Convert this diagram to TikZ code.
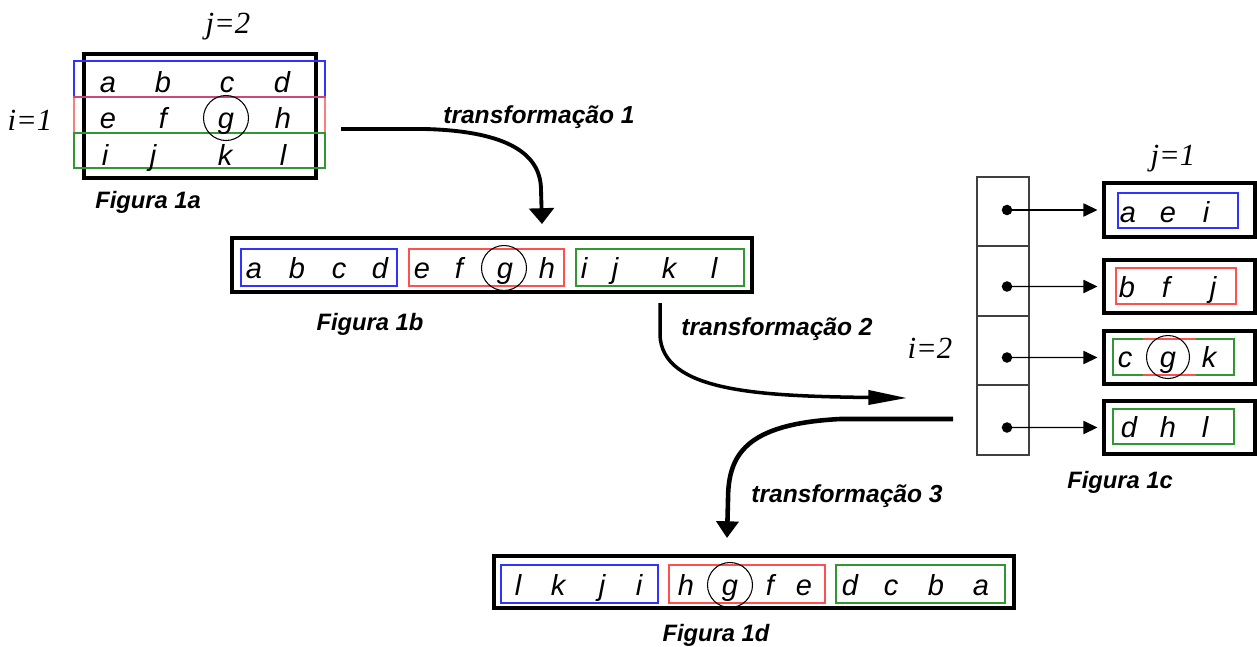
\documentclass[tikz,border=0pt]{standalone}
\usepackage{fontspec}
\setmainfont{Liberation Sans}
\newfontfamily\timesf{Liberation Serif}
\usetikzlibrary{arrows.meta,fit}
\definecolor{cblue}{RGB}{50,50,255}
\definecolor{cred}{RGB}{255,80,80}
\definecolor{cgreen}{RGB}{50,150,50}
\begin{document}
\begin{tikzpicture}[x=0.02cm,y=-0.02cm,
  lt/.style={inner sep=0pt, anchor=base, font=\fontsize{16.5}{19}\selectfont\itshape},
  lbl/.style={inner sep=0pt, anchor=base, font=\fontsize{13.5}{15}\selectfont\bfseries\itshape},
  tlbl/.style={inner sep=0pt, anchor=base, font=\fontsize{14}{16}\selectfont\bfseries\itshape},
  idx/.style={inner sep=0pt, anchor=base, font=\fontsize{17.5}{20}\selectfont\timesf\itshape},
  outer/.style={draw, line width=1.8pt, inner sep=0pt},
  bbox/.style={draw=cblue, line width=0.7pt, inner sep=0pt},
  rbox/.style={draw=cred, line width=0.7pt, inner sep=0pt},
  gbox/.style={draw=cgreen, line width=0.7pt, inner sep=0pt},
  cell/.style={draw=black!75, line width=0.6pt, inner sep=0pt},
  circ/.style={draw, circle, line width=0.6pt, minimum size=0.9cm, inner sep=0pt},
  dot/.style={circle, fill, inner sep=0pt, minimum size=6pt},
  ptr/.style={line width=0.7pt, -{Triangle[width=7.5pt,length=8pt]}, shorten >=2.8pt},
  bigarrow/.style={line width=2.2pt}
]
\useasboundingbox (0,0) rectangle (1257,646);

% ---------- Figura 1a ----------
\node[outer, fit={(84,54) (316,178)}] (f1a) {};
\node[bbox, fit={(74,61) (325,97)}] (a1row) {};
\node[rbox, draw opacity=0.75, fit={(74,97) (325,133)}] (a2row) {};
\node[gbox, fit={(74,133) (325,168)}] (a3row) {};
\node[lt] (aa) at (108,92) {a};
\node[lt] (ab) at (163,92) {b};
\node[lt] (ac) at (227,92) {c};
\node[lt] (ad) at (282,92) {d};
\node[lt] (ae) at (108,128) {e};
\node[lt] (af) at (163,128) {f};
\node[lt] (ag) at (226,128) {g};
\node[lt] (ah) at (283,128) {h};
\node[lt] (ai) at (105,165) {i};
\node[lt] (aj) at (153,165) {j};
\node[lt] (ak) at (225,165) {k};
\node[lt] (al) at (283,165) {l};
\node[circ] (cga) at (226,118) {};
\node[idx] (j2) at (228,33) {j=2};
\node[idx] (i1) at (30,130) {i=1};
\node[lbl] (fig1a) at (148,208) {Figura 1a};

% ---------- arrow 1 ----------
\coordinate (t1s) at (341,129);
\coordinate (t1e) at (542,224);
\draw[bigarrow, -{Triangle[width=14pt,length=9pt]}] (t1s) -- (425,129)
  .. controls (500,131) and (541,150) .. (541,190) -- (t1e);
\node[tlbl] (tr1) at (539,123) {transformação 1};

% ---------- Figura 1b ----------
\node[outer, fit={(232,238) (752,292)}] (f1b) {};
\node[bbox, fit={(241,249) (397,286)}] (b1g) {};
\node[rbox, fit={(409,249) (564,286)}] (b2g) {};
\node[gbox, fit={(576,249) (744,286)}] (b3g) {};
\node[lt] (ba) at (254,278) {a};
\node[lt] (bb) at (297,278) {b};
\node[lt] (bc) at (339,278) {c};
\node[lt] (bd) at (380,278) {d};
\node[lt] (be) at (422,278) {e};
\node[lt] (bf) at (459,278) {f};
\node[lt] (bg) at (505,278) {g};
\node[lt] (bh) at (547,278) {h};
\node[lt] (bi) at (584,278) {i};
\node[lt] (bj) at (615,278) {j};
\node[lt] (bk) at (669,278) {k};
\node[lt] (bl) at (714,278) {l};
\node[circ] (cgb) at (504,268) {};
\node[lbl] (fig1b) at (370,330) {Figura 1b};

% ---------- arrow 2 ----------
\coordinate (t2s) at (660,303);
\coordinate (t2e) at (907,398);
\draw[bigarrow, line width=2pt, -{Triangle[width=8pt,length=22pt]}] (t2s) -- (660,335)
  .. controls (662,392) and (760,396) .. (t2e);
\node[tlbl] (tr2) at (777,335) {transformação 2};

% ---------- Figura 1c ----------
\node[cell, fit={(977,177) (1029,246)}] (c1) {};
\node[cell, fit={(977,246) (1029,316)}] (c2) {};
\node[cell, fit={(977,316) (1029,385)}] (c3) {};
\node[cell, fit={(977,385) (1029,455)}] (c4) {};
\node[outer, fit={(1104,183) (1255,237)}] (r1) {};
\node[outer, fit={(1104,260) (1255,313)}] (r2) {};
\node[outer, fit={(1104,331) (1255,384)}] (r3) {};
\node[outer, fit={(1104,401) (1255,454)}] (r4) {};
\node[bbox, fit={(1118,193) (1238,228)}] (r1g) {};
\node[rbox, fit={(1116,268) (1236,304)}] (r2g) {};
\node[gbox, fit={(1113,339) (1234,375)}] (r3g) {};
\node[gbox, fit={(1113,409) (1234,444)}] (r4g) {};
\draw[cred, line width=0.7pt] (1143,339) -- (1196,339) (1143,375) -- (1196,375);
\node[dot] (p1) at (1007,210) {};
\node[dot] (p2) at (1007,286.5) {};
\node[dot] (p3) at (1007,357.5) {};
\node[dot] (p4) at (1007,427.5) {};
\draw[ptr] (p1.center) -- (r1.west);
\draw[ptr] (p2.center) -- (r2.west);
\draw[ptr] (p3.center) -- (r3.west);
\draw[ptr] (p4.center) -- (r4.west);
\node[lt] (ca) at (1128,222) {a};
\node[lt] (ce) at (1168,222) {e};
\node[lt] (ci) at (1206,222) {i};
\node[lt] (cb) at (1127,297) {b};
\node[lt] (cf) at (1166,297) {f};
\node[lt] (cj) at (1213,297) {j};
\node[lt] (cc) at (1125,367) {c};
\node[lt] (cg) at (1168,367) {g};
\node[lt] (ck) at (1209,367) {k};
\node[lt] (cd) at (1129,437) {d};
\node[lt] (ch) at (1168,437) {h};
\node[lt] (cl) at (1205,437) {l};
\node[circ, minimum size=0.86cm] (cgc) at (1168,357) {};
\node[idx] (j1) at (1173,165) {j=1};
\node[idx] (i2) at (930,358) {i=2};
\node[lbl] (fig1c) at (1120,488) {Figura 1c};

% ---------- arrow 3 ----------
\coordinate (t3s) at (953,419);
\coordinate (t3e) at (727,538);
\draw[bigarrow, line width=2.6pt, -{Triangle[width=12.5pt,length=9.5pt]}] (t3s) -- (840,419)
  .. controls (745,424) and (728,455) .. (728,500) -- (t3e);
\node[tlbl] (tr3) at (847,502) {transformação 3};

% ---------- Figura 1d ----------
\node[outer, fit={(494,556) (1014,608)}] (f1d) {};
\node[bbox, fit={(501,565) (658,603)}] (d1g) {};
\node[rbox, fit={(669,565) (825,603)}] (d2g) {};
\node[gbox, fit={(836,565) (1005,603)}] (d3g) {};
\node[lt] (dl) at (518,595) {l};
\node[lt] (dk) at (558,595) {k};
\node[lt] (dj) at (602,595) {j};
\node[lt] (di) at (639,595) {i};
\node[lt] (dh) at (686,595) {h};
\node[lt] (dg) at (730,595) {g};
\node[lt] (df) at (770,595) {f};
\node[lt] (de) at (804,595) {e};
\node[lt] (dd) at (850,595) {d};
\node[lt] (dc) at (891,595) {c};
\node[lt] (db) at (936,595) {b};
\node[lt] (da) at (981,595) {a};
\node[circ] (cgd) at (730,585) {};
\node[lbl] (fig1d) at (716,641) {Figura 1d};
\end{tikzpicture}
\end{document}
